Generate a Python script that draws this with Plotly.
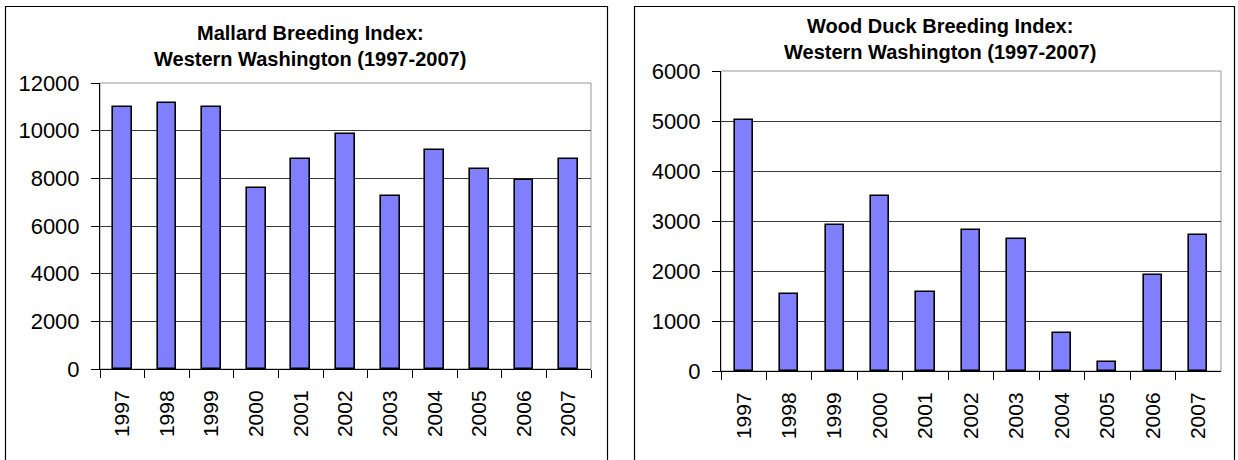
import plotly.graph_objects as go

years = ["1997", "1998", "1999", "2000", "2001", "2002", "2003", "2004", "2005", "2006", "2007"]
mallard = [11000, 11150, 11000, 7600, 8800, 9870, 7250, 9200, 8400, 7930, 8800]
wood_duck = [5030, 1550, 2930, 3500, 1580, 2830, 2640, 770, 190, 1930, 2730]

title_left = ["Mallard Breeding Index:", "Western Washington (1997-2007)"]
title_right = ["Wood Duck Breeding Index:", "Western Washington (1997-2007)"]

W, H = 1238, 460
FONT = "Liberation Sans, Arial, sans-serif"
BAR = "#8080FF"
GRID = "#3a3a3a"


def px(x):
    return x / W


def py(y):
    return (H - y) / H


fig = go.Figure()
fig.add_trace(go.Bar(x=years, y=mallard, xaxis="x", yaxis="y", width=0.42,
                     marker=dict(color=BAR, line=dict(color="black", width=1.6)),
                     showlegend=False))
fig.add_trace(go.Bar(x=years, y=wood_duck, xaxis="x2", yaxis="y2", width=0.40,
                     marker=dict(color=BAR, line=dict(color="black", width=1.6)),
                     showlegend=False))

xcommon = dict(type="category", range=[-0.5, 10.5], tickson="boundaries", ticks="outside",
               ticklen=8, tickcolor="black", tickwidth=1, showline=True, linecolor="black",
               linewidth=1, showgrid=False, tickangle=-90, automargin=False,
               tickfont=dict(family=FONT, size=21, color="black"), ticklabelstandoff=12,
               fixedrange=True)
ycommon = dict(ticks="outside", ticklen=8, tickcolor="black", tickwidth=1, showline=True,
               linecolor="black", linewidth=1, showgrid=True, gridcolor=GRID, gridwidth=1,
               zeroline=False, tickfont=dict(family=FONT, size=22, color="black"),
               tickformat="d", automargin=False,
               ticklabelstandoff=7, fixedrange=True)

fig.update_layout(
    width=W, height=H, autosize=False,
    margin=dict(l=0, r=0, t=0, b=0, pad=0, autoexpand=False),
    paper_bgcolor="white", plot_bgcolor="white",
    bargap=0,
    xaxis=dict(xcommon, domain=[px(100), px(591)], anchor="y"),
    yaxis=dict(ycommon, domain=[py(369), py(83)], range=[0, 12000], dtick=2000, anchor="x"),
    xaxis2=dict(xcommon, domain=[px(721), px(1221)], anchor="y2"),
    yaxis2=dict(ycommon, domain=[py(371), py(71)], range=[0, 6000], dtick=1000, anchor="x2"),
)

shapes = [
    # outer chart boxes
    dict(type="rect", xref="paper", yref="paper", x0=px(5.5), x1=px(607.5), y0=-0.2, y1=py(6.5),
         line=dict(color="black", width=1.2), layer="below"),
    dict(type="rect", xref="paper", yref="paper", x0=px(634.5), x1=px(1234.5), y0=-0.2, y1=py(6.5),
         line=dict(color="black", width=1.2), layer="below"),
    # plot area borders
    dict(type="rect", xref="x domain", yref="y domain", x0=0, x1=1, y0=0, y1=1,
         line=dict(color="#999999", width=1), layer="below"),
    dict(type="rect", xref="x2 domain", yref="y2 domain", x0=0, x1=1, y0=0, y1=1,
         line=dict(color="#999999", width=1), layer="below"),
]
fig.update_layout(shapes=shapes)

annotations = []
for cx, ys, lines in [(310, (33, 59), title_left), (940, (26, 52), title_right)]:
    for yy, txt in zip(ys, lines):
        annotations.append(dict(text="<b>" + txt + "</b>", xref="paper", yref="paper",
                                x=px(cx), y=py(yy), xanchor="center", yanchor="middle",
                                showarrow=False,
                                font=dict(family=FONT, size=20, color="black")))
fig.update_layout(annotations=annotations)

fig.write_html("out.html", config={"displayModeBar": False},
               post_script="document.body.style.margin='0';document.body.style.overflow='hidden';")
